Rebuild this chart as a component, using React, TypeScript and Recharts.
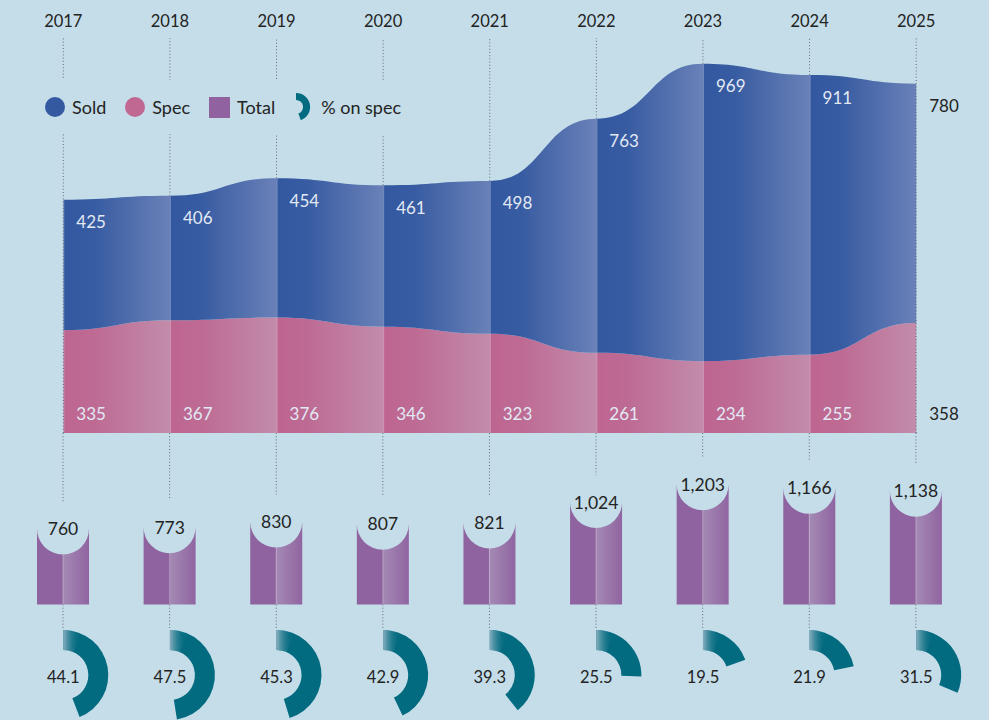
import {
  Area,
  Bar,
  ComposedChart,
  LabelList,
  Legend,
  Line,
  ReferenceLine,
  Sector,
  XAxis,
  YAxis,
} from 'recharts'

const years = ['2017', '2018', '2019', '2020', '2021', '2022', '2023', '2024', '2025']
const sold = [425, 406, 454, 461, 498, 763, 969, 911, 780]
const spec = [335, 367, 376, 346, 323, 261, 234, 255, 358]
const totals = [760, 773, 830, 807, 821, 1024, 1203, 1166, 1138]
const pctOnSpec = [44.1, 47.5, 45.3, 42.9, 39.3, 25.5, 19.5, 21.9, 31.5]
const legendItems = ['Sold', 'Spec', 'Total', '% on spec']

const W = 989
const H = 720
const BG = '#c4dde8'
const INK = '#232323'
const FONT = 'Lato, "Open Sans", sans-serif'
const MARGIN = { top: 0, right: 19.5, bottom: 0, left: 10 }
const AXIS_H = 38
const BAND = (W - MARGIN.left - MARGIN.right) / years.length
const X0 = MARGIN.left + BAND / 2

// areas: 0 sits on y=433, bars: 0 sits on y=604.5
const AREA_BASE_Y = 433
const AREA_K = 0.307
const AREA_DOMAIN = [-(H - AREA_BASE_Y) / AREA_K, (AREA_BASE_Y - AXIS_H) / AREA_K]
const BAR_BASE_Y = 604.5
const BAR_K = 0.1
const BAR_DOMAIN = [-(H - BAR_BASE_Y) / BAR_K, (BAR_BASE_Y - AXIS_H) / BAR_K]
const GAUGE_CY = 675
const GAUGE_IN = 25
const GAUGE_OUT = 45

const data = years.map((year, i) => ({
  year,
  sold: sold[i],
  spec: spec[i],
  total: totals[i],
  pct: pctOnSpec[i],
}))

const fmt = (v: number) => v.toLocaleString('en-US')
const dotted = { stroke: '#5d6d78', strokeWidth: 1, strokeDasharray: '1 2.2' }

function YearTick({ x, payload }: any) {
  return (
    <text x={x} y={27} textAnchor="middle" fontSize={16.5} fill={INK}>
      {payload.value}
    </text>
  )
}

function areaLabel(kind: 'sold' | 'spec') {
  return (props: any) => {
    const x = props.x ?? props.viewBox?.x
    const y = props.y ?? props.viewBox?.y
    const last = props.index === years.length - 1
    const ty = kind === 'sold' ? y + 22 : AREA_BASE_Y - 20
    return (
      <text
        x={x + 13}
        y={ty}
        dominantBaseline="central"
        fontSize={17}
        fill={last ? INK : '#e2e9f4'}
      >
        {props.value}
      </text>
    )
  }
}

function TotalBar(props: any) {
  const { x, y, width, height, payload } = props
  const r = width / 2
  const cx = x + r
  const bottom = y + height
  const d = `M${x},${y} L${x},${bottom} L${x + width},${bottom} L${x + width},${y} A${r},${r} 0 0 1 ${x},${y} Z`
  return (
    <g>
      <line x1={cx} x2={cx} y1={AREA_BASE_Y} y2={y - r - 1} {...dotted} />
      <path d={d} fill="url(#totalFill)" />
      <line x1={cx} x2={cx} y1={y + r} y2={bottom} stroke="#fff" strokeOpacity={0.3} />
      <text x={cx} y={y} textAnchor="middle" dominantBaseline="central" fontSize={17.5} fill={INK}>
        {fmt(payload.total)}
      </text>
      <line x1={cx} x2={cx} y1={bottom} y2={GAUGE_CY - GAUGE_OUT} {...dotted} />
    </g>
  )
}

function GaugeDot(props: any) {
  const { cx, payload, index } = props
  const id = `gauge-${index}`
  return (
    <g key={id}>
      <defs>
        <linearGradient id={id} gradientUnits="userSpaceOnUse" x1={cx} x2={cx + 17} y1={0} y2={0}>
          <stop offset="0" stopColor="#86aebf" stopOpacity={1} />
          <stop offset="1" stopColor="#036b80" stopOpacity={0} />
        </linearGradient>
      </defs>
      <Sector
        cx={cx}
        cy={GAUGE_CY}
        innerRadius={GAUGE_IN}
        outerRadius={GAUGE_OUT}
        startAngle={90}
        endAngle={90 - payload.pct * 3.6}
        fill="#036b80"
      />
      <Sector
        cx={cx}
        cy={GAUGE_CY}
        innerRadius={GAUGE_IN}
        outerRadius={GAUGE_OUT}
        startAngle={90}
        endAngle={90 - Math.min(payload.pct * 3.6, 24)}
        fill={`url(#${id})`}
      />
      <text x={cx} y={GAUGE_CY + 2} textAnchor="middle" dominantBaseline="central" fontSize={16.5} fill={INK}>
        {payload.pct}
      </text>
    </g>
  )
}

function Marker({ name }: { name: string }) {
  if (name === 'Sold' || name === 'Spec') {
    return (
      <span
        style={{
          width: 20,
          height: 20,
          borderRadius: 10,
          background: name === 'Sold' ? '#3559a1' : '#c06892',
          display: 'inline-block',
        }}
      />
    )
  }
  if (name === 'Total') {
    return <span style={{ width: 21, height: 21, background: '#9063a0', display: 'inline-block' }} />
  }
  return (
    <svg width={20} height={30}>
      <path d="M2 1 A14 14 0 0 1 6.8 28.2 L4.4 21.6 A7 7 0 0 0 2 8 Z" fill="#036b80" />
    </svg>
  )
}

function LegendBox() {
  return (
    <div
      style={{
        display: 'flex',
        alignItems: 'center',
        height: 54,
        padding: '0 9px',
        background: BG,
        fontFamily: FONT,
        fontSize: 18,
        color: INK,
      }}
    >
      {legendItems.map((name) => (
        <span key={name} style={{ display: 'flex', alignItems: 'center', gap: 7, marginRight: 19 }}>
          <Marker name={name} />
          {name}
        </span>
      ))}
    </div>
  )
}

export default function App() {
  return (
    <div style={{ position: 'absolute', left: 0, top: 0, width: W, height: H, background: BG, fontFamily: FONT }}>
      <ComposedChart width={W} height={H} data={data} margin={MARGIN} barSize={52}>
        <defs>
          <linearGradient id="soldGrad" x1="0" x2="1" y1="0" y2="0">
            <stop offset="0" stopColor="#3358a0" />
            <stop offset="0.3" stopColor="#385ca2" />
            <stop offset="1" stopColor="#6a81b8" />
          </linearGradient>
          <linearGradient id="specGrad" x1="0" x2="1" y1="0" y2="0">
            <stop offset="0" stopColor="#bd6590" />
            <stop offset="0.3" stopColor="#be6b94" />
            <stop offset="1" stopColor="#c28cab" />
          </linearGradient>
          <pattern id="soldFill" patternUnits="userSpaceOnUse" x={X0} y={0} width={BAND} height={H}>
            <rect width={BAND} height={H} fill="url(#soldGrad)" />
            <rect width={1} height={H} fill="#fff" opacity={0.3} />
          </pattern>
          <pattern id="specFill" patternUnits="userSpaceOnUse" x={X0} y={0} width={BAND} height={H}>
            <rect width={BAND} height={H} fill="url(#specGrad)" />
            <rect width={1} height={H} fill="#fff" opacity={0.3} />
          </pattern>
          <linearGradient id="totalFill" x1="0" x2="1" y1="0" y2="0">
            <stop offset="0" stopColor="#8f63a0" />
            <stop offset="0.5" stopColor="#8f63a0" />
            <stop offset="0.5" stopColor="#a48ab4" />
            <stop offset="1" stopColor="#9064a1" />
          </linearGradient>
        </defs>
        <XAxis
          dataKey="year"
          orientation="top"
          height={AXIS_H}
          axisLine={false}
          tickLine={false}
          tick={<YearTick />}
          interval={0}
        />
        <YAxis yAxisId="area" hide type="number" domain={AREA_DOMAIN} allowDataOverflow />
        <YAxis yAxisId="bar" hide type="number" domain={BAR_DOMAIN} allowDataOverflow />
        {years.map((year, i) => (
          <ReferenceLine
            key={year}
            yAxisId="area"
            segment={[
              { x: year, y: i === 0 || i === years.length - 1 ? 0 : totals[i] },
              { x: year, y: AREA_DOMAIN[1] },
            ]}
            {...dotted}
          />
        ))}
        <Area
          yAxisId="area"
          type="bumpX"
          dataKey="spec"
          stackId="s"
          stroke="none"
          fill="url(#specFill)"
          fillOpacity={1}
          isAnimationActive={false}
        >
          <LabelList dataKey="spec" content={areaLabel('spec')} />
        </Area>
        <Area
          yAxisId="area"
          type="bumpX"
          dataKey="sold"
          stackId="s"
          stroke="none"
          fill="url(#soldFill)"
          fillOpacity={1}
          isAnimationActive={false}
        >
          <LabelList dataKey="sold" content={areaLabel('sold')} />
        </Area>
        <Bar yAxisId="bar" dataKey="total" shape={<TotalBar />} isAnimationActive={false} />
        <Line
          yAxisId="bar"
          dataKey="pct"
          stroke="none"
          dot={GaugeDot}
          activeDot={false}
          isAnimationActive={false}
        />
        <Legend
          layout="horizontal"
          verticalAlign="middle"
          align="center"
          content={<LegendBox />}
          wrapperStyle={{ top: 80, left: 36, width: 'auto', height: 54 }}
        />
      </ComposedChart>
    </div>
  )
}
